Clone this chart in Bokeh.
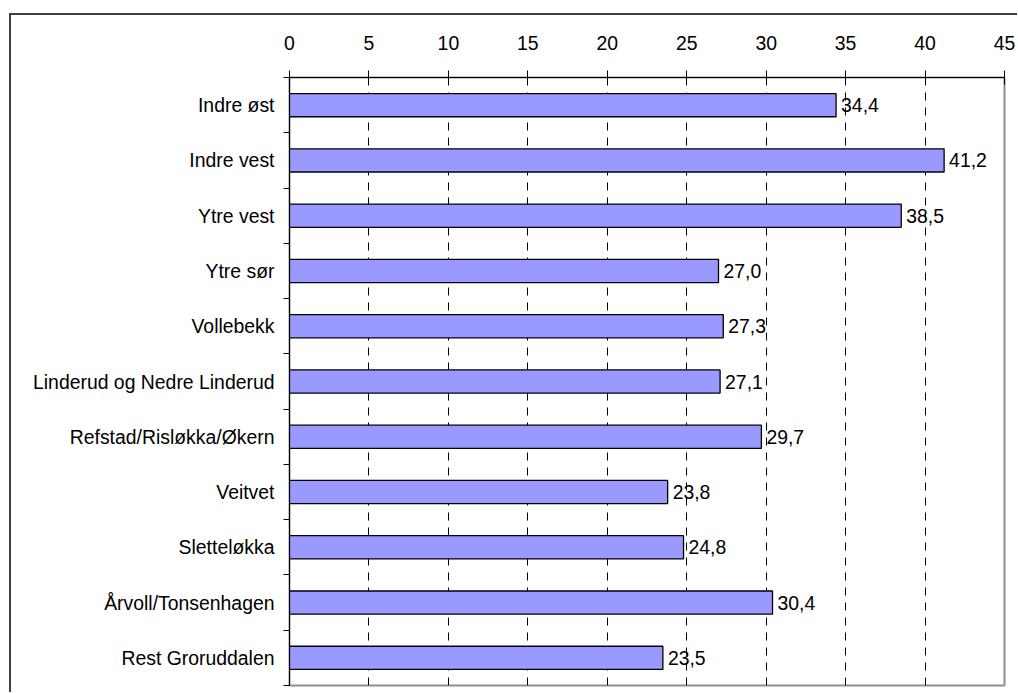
from bokeh.plotting import figure
from bokeh.models import Range1d, FixedTicker, LabelSet, ColumnDataSource
from bokeh.core.properties import value
from bokeh.layouts import column
from bokeh.embed import file_html
from bokeh.resources import INLINE

categories = ["Indre øst", "Indre vest", "Ytre vest", "Ytre sør", "Vollebekk",
              "Linderud og Nedre Linderud", "Refstad/Risløkka/Økern", "Veitvet",
              "Sletteløkka", "Årvoll/Tonsenhagen", "Rest Groruddalen"]
values = [34.4, 41.2, 38.5, 27.0, 27.3, 27.1, 29.7, 23.8, 24.8, 30.4, 23.5]
x_ticks = [0, 5, 10, 15, 20, 25, 30, 35, 40, 45]

n = len(categories)
ypos = [i + 0.5 for i in range(n)]
labels = [f"{v:.1f}".replace(".", ",") for v in values]
src = ColumnDataSource(dict(y=ypos, v=values, lab=labels, cat=categories))

FONT = "Liberation Sans"
FS = "19.4px"

p = figure(width=1006, height=677, output_backend="svg", toolbar_location=None,
           x_range=Range1d(0, 45), y_range=Range1d(n, 0),
           x_axis_location="above",
           min_border_left=278, min_border_right=13, min_border_top=62, min_border_bottom=7)

p.hbar(y="y", right="v", left=0, height=0.42, source=src,
       fill_color="#9999FF", line_color="black", line_width=1.3)

lab = LabelSet(x="v", y="y", text="lab", source=src, x_offset=5,
               text_baseline="middle", text_align="left",
               text_font=value(FONT), text_font_size=value(FS), text_color="black")
p.add_layout(lab)

# x axis (top)
xa = p.xaxis[0]
xa.ticker = FixedTicker(ticks=x_ticks)
xa.major_tick_in = 7
xa.major_tick_out = 7
xa.minor_tick_line_color = None
xa.axis_line_color = "black"
xa.major_tick_line_color = "black"
xa.major_label_text_font = FONT
xa.major_label_text_font_size = FS
xa.major_label_text_color = "black"
xa.major_label_standoff = 21

# y axis (left), ticks at category boundaries, labels at centers
ya = p.yaxis[0]
ya.ticker = FixedTicker(ticks=ypos, minor_ticks=list(range(n + 1)))
ya.major_label_overrides = {y: c for y, c in zip(ypos, categories)}
ya.major_tick_in = 0
ya.major_tick_out = 0
ya.minor_tick_in = 0
ya.minor_tick_out = 6
ya.minor_tick_line_color = "black"
ya.axis_line_color = "black"
ya.major_label_text_font = FONT
ya.major_label_text_font_size = FS
ya.major_label_text_color = "black"
ya.major_label_standoff = 9

p.xgrid.grid_line_color = "black"
p.xgrid.grid_line_dash = "8 7"
p.xgrid.grid_line_width = 1
p.ygrid.grid_line_color = None

p.outline_line_color = "#909090"
p.outline_line_width = 2
p.background_fill_color = "white"
p.border_fill_color = "white"

layout = column(p, styles={"border-left": "2px solid #404040",
                           "border-top": "2px solid #404040",
                           "margin-left": "9px", "margin-top": "13px"})

open("out.html", "w").write(file_html(layout, INLINE))
